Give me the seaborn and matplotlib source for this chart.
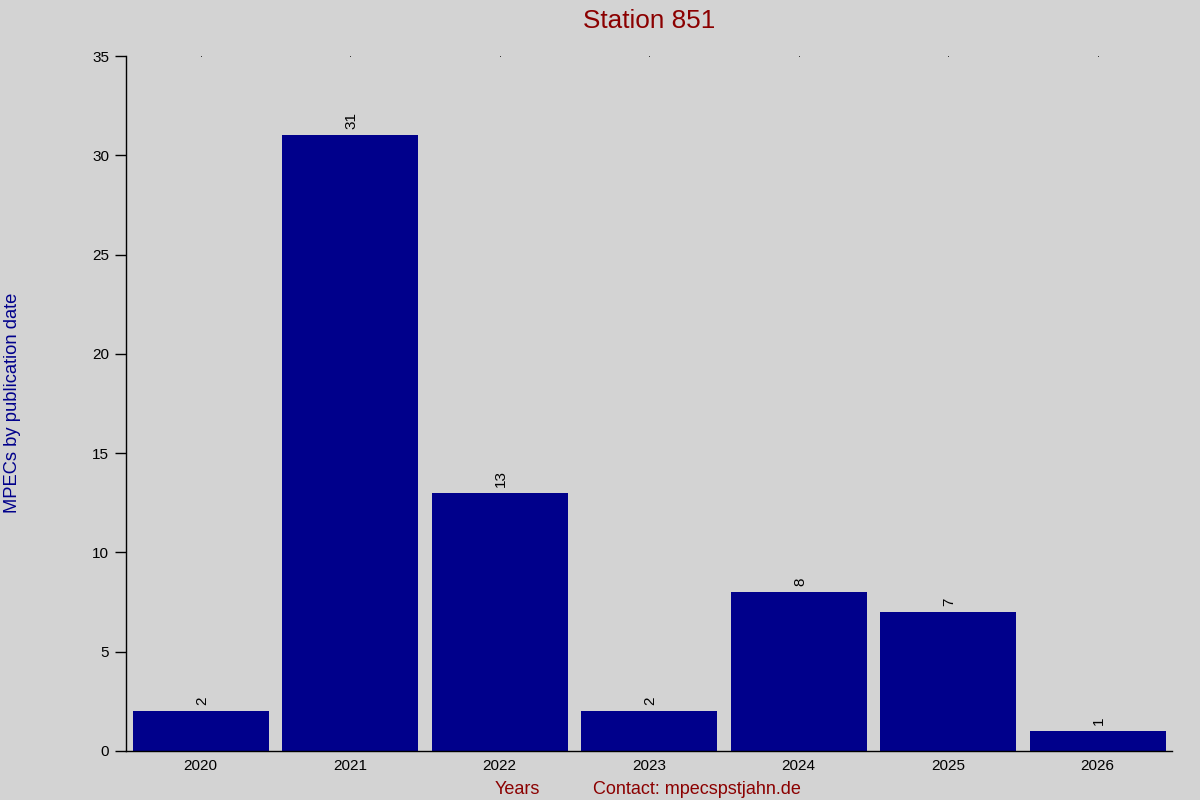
import matplotlib
matplotlib.use("Agg")
import matplotlib.pyplot as plt
import seaborn as sns
import pandas as pd

years = ["2020", "2021", "2022", "2023", "2024", "2025", "2026"]
counts = [2, 31, 13, 2, 8, 7, 1]

sns.set_theme(style="ticks")
plt.rcParams['font.family'] = ['Liberation Sans', 'DejaVu Sans']

bg = "#d3d3d3"
df = pd.DataFrame({"year": years, "count": counts})

fig = plt.figure(figsize=(12, 8), dpi=100, facecolor=bg)
ax = fig.add_axes([0.105, 0.06125, 0.872, 0.86875])
ax.set_facecolor(bg)

sns.barplot(data=df, x="year", y="count", color="#00008b", saturation=1,
            width=0.91, ax=ax, edgecolor="none")

for i, v in enumerate(counts):
    ax.text(i + 0.01, v + 0.3, str(v), rotation=90, ha="center", va="bottom",
            fontsize=11, color="black")

# small top markers at category positions
ax.plot(range(len(years)), [35] * len(years), linestyle="none", marker="s",
        markersize=0.5, markeredgewidth=0, color="black", clip_on=False)

ax.set_xlim(-0.5, len(years) - 0.5)
ax.set_ylim(0, 35)
ax.set_yticks(range(0, 36, 5))
ax.tick_params(axis="y", length=8, width=1, color="black", labelsize=11, labelcolor="black", pad=4)
ax.tick_params(axis="x", length=0, labelsize=11, labelcolor="black", pad=6)
for s in ["top", "right"]:
    ax.spines[s].set_visible(False)
for s in ["left", "bottom"]:
    ax.spines[s].set_color("black")
    ax.spines[s].set_linewidth(1)
ax.set_xlabel("")
ax.set_ylabel("")

fig.text(0.541, 0.989, "Station 851", ha="center", va="top", fontsize=18.8, color="#8b0000")
fig.text(0.431, 0.002, "Years", ha="center", va="bottom", fontsize=13, color="#8b0000")
fig.text(0.581, 0.002, "Contact: mpecspstjahn.de", ha="center", va="bottom", fontsize=13, color="#8b0000")
fig.text(0.0105, 0.496, "MPECs by publication date", rotation=90, ha="center", va="center",
         fontsize=13.2, color="#00008b")

fig.savefig("out.png", dpi=100, facecolor=bg)
